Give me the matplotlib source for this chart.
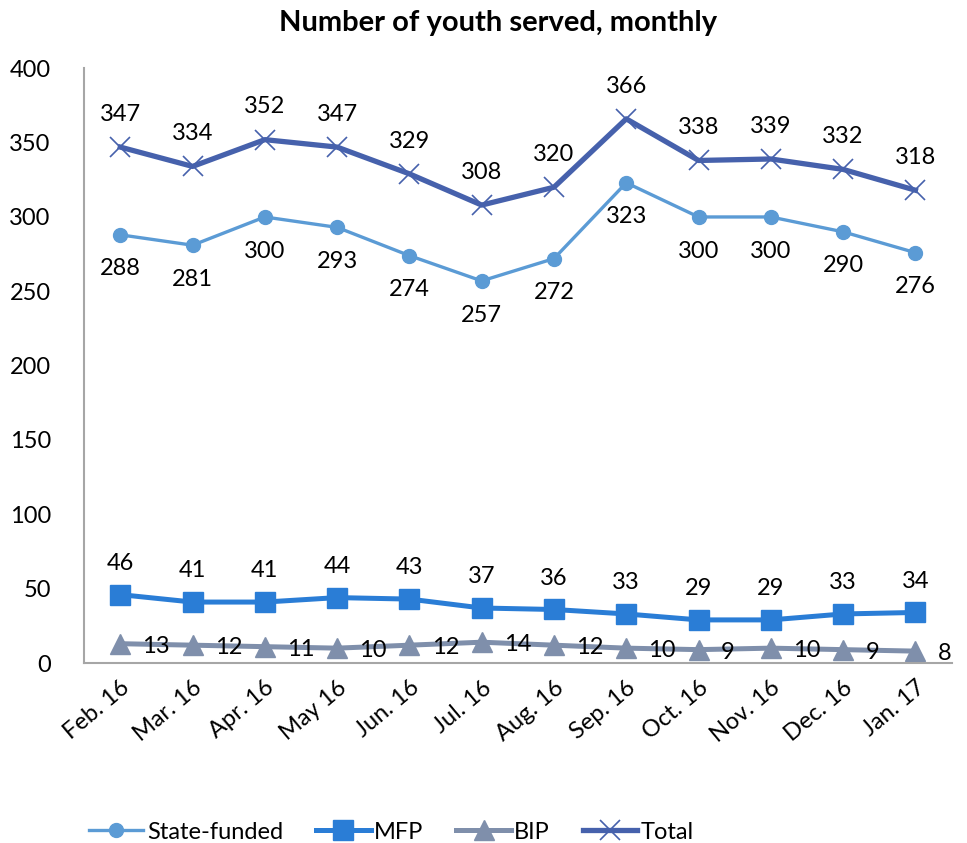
import numpy as np
import matplotlib.pyplot as plt

plt.rcParams['font.family'] = ['Lato', 'DejaVu Sans']

months = ["Feb. 16", "Mar. 16", "Apr. 16", "May 16", "Jun. 16", "Jul. 16",
          "Aug. 16", "Sep. 16", "Oct. 16", "Nov. 16", "Dec. 16", "Jan. 17"]
state_funded = [288, 281, 300, 293, 274, 257, 272, 323, 300, 300, 290, 276]
mfp = [46, 41, 41, 44, 43, 37, 36, 33, 29, 29, 33, 34]
bip = [13, 12, 11, 10, 12, 14, 12, 10, 9, 10, 9, 8]
total = [347, 334, 352, 347, 329, 308, 320, 366, 338, 339, 332, 318]

c_state = "#5B9BD5"
c_mfp = "#2A7DD6"
c_bip = "#7F8FAB"
c_total = "#4661AC"

x = np.arange(len(months))

fig = plt.figure(figsize=(9.67, 8.43), dpi=100)
ax = fig.add_axes([0.087, 0.2135, 0.897, 0.7055])

ax.plot(x, state_funded, color=c_state, lw=2.4, marker="o", ms=10, label="State-funded")
ax.plot(x, mfp, color=c_mfp, lw=3.6, marker="s", ms=14, label="MFP")
ax.plot(x, bip, color=c_bip, lw=3.6, marker="^", ms=14, label="BIP")
ax.plot(x, total, color=c_total, lw=3.8, marker="x", ms=14, mew=1.2, label="Total")

fs = 17
for i in x:
    ax.annotate(str(total[i]), (i, total[i]), xytext=(0, 16), textcoords="offset points",
                ha="center", va="bottom", fontsize=fs)
    ax.annotate(str(state_funded[i]), (i, state_funded[i]), xytext=(0, -17), textcoords="offset points",
                ha="center", va="top", fontsize=fs)
    ax.annotate(str(mfp[i]), (i, mfp[i]), xytext=(0, 15), textcoords="offset points",
                ha="center", va="bottom", fontsize=fs)
    ax.annotate(str(bip[i]), (i, bip[i]), xytext=(16, -2), textcoords="offset points",
                ha="left", va="center", fontsize=fs)

ax.set_xlim(-0.5, len(months) - 0.5)
ax.set_ylim(0, 400)
ax.set_yticks(range(0, 401, 50))
ax.set_xticks(x)
ax.set_xticklabels(months, rotation=40, ha="right", rotation_mode="anchor", fontsize=fs)
ax.tick_params(axis="y", labelsize=fs, length=0, pad=24)
ax.tick_params(axis="x", length=0, pad=10)

for s in ["top", "right"]:
    ax.spines[s].set_visible(False)
for s in ["left", "bottom"]:
    ax.spines[s].set_color("#A6A6A6")
    ax.spines[s].set_linewidth(1.5)

fig.text(0.515, 0.973, "Number of youth served, monthly", ha="center", va="center",
         fontsize=21, fontweight="bold")

fig.legend(loc="center", bbox_to_anchor=(0.405, 0.013), ncol=4, frameon=False,
           fontsize=fs, handlelength=2.3, columnspacing=1.4, handletextpad=0.15)

plt.savefig("out.png", dpi=100)
plt.close()
